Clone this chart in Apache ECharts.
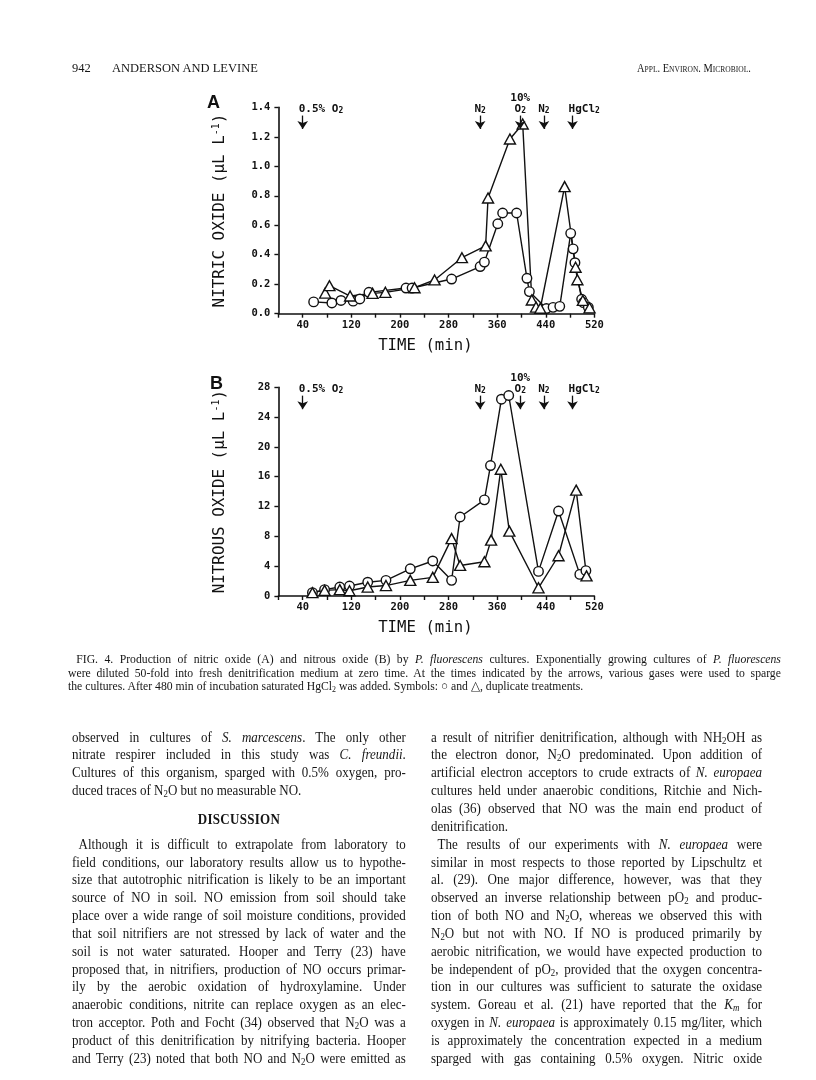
<!DOCTYPE html>
<html><head><meta charset="utf-8">
<script src="https://cdn.jsdelivr.net/npm/echarts@6/dist/echarts.min.js"></script>
<style>
html,body{margin:0;padding:0;background:#fff;}
#page{position:relative;width:816px;height:1080px;overflow:hidden;background:#fff;}
#chart{position:absolute;left:0;top:0;width:816px;height:1080px;}
.blk{position:absolute;font-family:"Liberation Serif","Times New Roman",serif;color:#151515;transform-origin:0 0;}
.ln{display:block;text-align:justify;text-align-last:justify;overflow:hidden;white-space:normal;}
.ln.last{text-align:left;text-align-last:left;}
.ind{padding-left:7px;}
sub{font-size:0.68em;vertical-align:-0.25em;line-height:0;}
.sc{font-variant:small-caps;}
.head{text-align:center;text-align-last:center;font-weight:bold;letter-spacing:0.3px;}
</style></head>
<body><div id="page">
<div id="chart"></div>

<div class="blk" style="left:72px;top:60px;font-size:12.5px;line-height:16px;">942</div>
<div class="blk" style="left:112px;top:60px;font-size:12.5px;line-height:16px;">ANDERSON AND LEVINE</div>
<div class="blk sc" style="left:637px;top:60px;font-size:12.5px;line-height:16px;white-space:nowrap;transform:scaleX(0.835);">Appl. Environ. Microbiol.</div>

<div class="blk" style="left:68px;top:653px;width:780px;font-size:12.8px;line-height:13.5px;transform:scaleX(0.914);">
<span class="ln" style="padding-left:9px;">FIG. 4. Production of nitric oxide (A) and nitrous oxide (B) by <i>P. fluorescens</i> cultures. Exponentially growing cultures of <i>P. fluorescens</i></span>
<span class="ln">were diluted 50-fold into fresh denitrification medium at zero time. At the times indicated by the arrows, various gases were used to sparge</span>
<span class="ln last">the cultures. After 480 min of incubation saturated HgCl<sub>2</sub> was added. Symbols: ○ and △, duplicate treatments.</span>
</div>

<div class="blk" style="left:72px;top:728.6px;width:359px;font-size:14px;line-height:17.85px;transform:scaleX(0.93);">
<span class="ln">observed in cultures of <i>S. marcescens</i>. The only other</span>
<span class="ln">nitrate respirer included in this study was <i>C. freundii</i>.</span>
<span class="ln">Cultures of this organism, sparged with 0.5% oxygen, pro-</span>
<span class="ln last">duced traces of N<sub>2</sub>O but no measurable NO.</span>
<span class="ln head" style="height:35.7px;line-height:40px;">DISCUSSION</span>
<span class="ln ind">Although it is difficult to extrapolate from laboratory to</span>
<span class="ln">field conditions, our laboratory results allow us to hypothe-</span>
<span class="ln">size that autotrophic nitrification is likely to be an important</span>
<span class="ln">source of NO in soil. NO emission from soil should take</span>
<span class="ln">place over a wide range of soil moisture conditions, provided</span>
<span class="ln">that soil nitrifiers are not stressed by lack of water and the</span>
<span class="ln">soil is not water saturated. Hooper and Terry (23) have</span>
<span class="ln">proposed that, in nitrifiers, production of NO occurs primar-</span>
<span class="ln">ily by the aerobic oxidation of hydroxylamine. Under</span>
<span class="ln">anaerobic conditions, nitrite can replace oxygen as an elec-</span>
<span class="ln">tron acceptor. Poth and Focht (34) observed that N<sub>2</sub>O was a</span>
<span class="ln">product of this denitrification by nitrifying bacteria. Hooper</span>
<span class="ln">and Terry (23) noted that both NO and N<sub>2</sub>O were emitted as</span>
</div>

<div class="blk" style="left:431px;top:728.6px;width:356px;font-size:14px;line-height:17.85px;transform:scaleX(0.93);">
<span class="ln">a result of nitrifier denitrification, although with NH<sub>2</sub>OH as</span>
<span class="ln">the electron donor, N<sub>2</sub>O predominated. Upon addition of</span>
<span class="ln">artificial electron acceptors to crude extracts of <i>N. europaea</i></span>
<span class="ln">cultures held under anaerobic conditions, Ritchie and Nich-</span>
<span class="ln">olas (36) observed that NO was the main end product of</span>
<span class="ln last">denitrification.</span>
<span class="ln ind">The results of our experiments with <i>N. europaea</i> were</span>
<span class="ln">similar in most respects to those reported by Lipschultz et</span>
<span class="ln">al. (29). One major difference, however, was that they</span>
<span class="ln">observed an inverse relationship between pO<sub>2</sub> and produc-</span>
<span class="ln">tion of both NO and N<sub>2</sub>O, whereas we observed this with</span>
<span class="ln">N<sub>2</sub>O but not with NO. If NO is produced primarily by</span>
<span class="ln">aerobic nitrification, we would have expected production to</span>
<span class="ln">be independent of pO<sub>2</sub>, provided that the oxygen concentra-</span>
<span class="ln">tion in our cultures was sufficient to saturate the oxidase</span>
<span class="ln">system. Goreau et al. (21) have reported that the <i>K<sub>m</sub></i> for</span>
<span class="ln">oxygen in <i>N. europaea</i> is approximately 0.15 mg/liter, which</span>
<span class="ln">is approximately the concentration expected in a medium</span>
<span class="ln">sparged with gas containing 0.5% oxygen. Nitric oxide</span>
</div>
</div>

<script>
// ---------- Data ----------
// Panel A: nitric oxide (uL/L) vs time (min)
const timeA_circle = [58, 88, 103, 123, 134, 149, 210, 220, 285, 332, 339, 361, 369, 392, 409, 413, 441, 452, 463, 481, 485, 488, 499, 502, 510];
const noA_circle   = [0.08, 0.073, 0.09, 0.085, 0.10, 0.145, 0.174, 0.174, 0.235, 0.32, 0.35, 0.61, 0.683, 0.683, 0.24, 0.15, 0.035, 0.043, 0.05, 0.545, 0.44, 0.346, 0.098, 0.075, 0.043];
const timeA_tri    = [77, 84, 118, 155, 176, 224, 257, 302, 341, 345, 381, 402, 417, 424, 431, 471, 489, 492, 501, 512];
const noA_tri      = [0.14, 0.19, 0.12, 0.138, 0.145, 0.176, 0.229, 0.38, 0.46, 0.785, 1.185, 1.287, 0.093, 0.045, 0.037, 0.862, 0.315, 0.23, 0.09, 0.04];
// Panel B: nitrous oxide (uL/L) vs time (min)
const timeB_circle = [56, 76, 101, 117, 147, 177, 217, 254, 285, 299, 339, 349, 367, 379, 428, 461, 496, 506];
const n2oB_circle  = [0.45, 0.85, 1.2, 1.34, 1.85, 2.1, 3.65, 4.7, 2.1, 10.6, 12.9, 17.5, 26.4, 26.9, 3.3, 11.4, 2.9, 3.4];
const timeB_tri    = [56, 76, 101, 117, 147, 177, 217, 254, 285, 299, 339, 350, 366, 380, 428, 461, 490, 507];
const n2oB_tri     = [0.45, 0.75, 0.85, 0.7, 1.2, 1.4, 2.1, 2.5, 7.7, 4.1, 4.6, 7.5, 17.0, 8.7, 1.1, 5.4, 14.2, 2.7];
// Sparging events (arrows)
const eventTimes  = [40, 332, 398, 437, 484];
const eventLabels = ['0.5% O2', 'N2', '10%\nO2', 'N2', 'HgCl2'];
// Tick labels
const xTickLabels = [40, 120, 200, 280, 360, 440, 520];
const yTickLabelsA = ['0.0', '0.2', '0.4', '0.6', '0.8', '1.0', '1.2', '1.4'];
const yTickLabelsB = ['0', '4', '8', '12', '16', '20', '24', '28'];

// ---------- Chart ----------
const INK = '#111';
const MONO = '"DejaVu Sans Mono", monospace';
const chart = echarts.init(document.getElementById('chart'), null, {renderer: 'canvas'});

function pairs(t, v) { return t.map((x, i) => [x, v[i]]); }
function richLabel(s) {
  return s.split('\n').map(line =>
    '{n|' + line.replace(/([A-Za-z])2/g, '$1}{s|2}{n|') + '}'
  ).join('\n').replace(/\{n\|\}/g, '');
}
const richStyles = {
  n: {fontFamily: MONO, fontWeight: 'bold', fontSize: 11, lineHeight: 11, color: INK},
  s: {fontFamily: MONO, fontWeight: 'bold', fontSize: 8, lineHeight: 5, verticalAlign: 'bottom', color: INK}
};
const leftAligned = {0: true, 4: true};

function markers(yMax) {
  const top = yMax * 0.96, bot = yMax * 0.895;
  return {
    markLine: {
      silent: true, animation: false,
      symbol: ['none', 'arrow'], symbolSize: 8,
      label: {show: false},
      lineStyle: {color: INK, width: 1.3, type: 'solid'},
      emphasis: {disabled: true},
      data: eventTimes.map(t => [{coord: [t, top]}, {coord: [t, bot]}])
    },
    markPoint: {
      silent: true, animation: false,
      symbol: 'circle', symbolSize: 0,
      itemStyle: {color: 'rgba(0,0,0,0)'},
      data: eventTimes.map((t, i) => ({
        coord: [t, top],
        label: leftAligned[i] ? {align: 'left', offset: [-4, 0]} : {}
      })),
      label: {
        show: true, position: 'top', distance: 1,
        formatter: p => richLabel(eventLabels[p.dataIndex]),
        rich: richStyles
      }
    }
  };
}

function dataSeries(idx, t, v, sym, extra) {
  return Object.assign({
    type: 'line', xAxisIndex: idx, yAxisIndex: idx,
    data: pairs(t, v),
    symbol: sym, symbolSize: sym === 'triangle' ? [11, 10] : 9.5,
    showSymbol: true, showAllSymbol: true, clip: false,
    lineStyle: {color: INK, width: 1.4},
    itemStyle: {color: '#fff', borderColor: INK, borderWidth: 1.4},
    emphasis: {disabled: true},
    animation: false
  }, extra || {});
}

function xAxis(idx) {
  return {
    gridIndex: idx, type: 'value', min: 0, max: 520, interval: 40,
    axisLine: {show: true, lineStyle: {color: INK, width: 1.6}},
    axisTick: {show: true, length: 4, inside: false, lineStyle: {color: INK, width: 1.4}},
    splitLine: {show: false},
    axisLabel: {
      margin: 6, color: INK, fontFamily: MONO, fontWeight: 'bold', fontSize: 10.5,
      formatter: v => xTickLabels.includes(v) ? String(v) : ''
    },
    name: 'TIME (min)', nameLocation: 'middle', nameGap: 24,
    nameTextStyle: {fontFamily: MONO, fontSize: 15.7, color: INK, padding: [0, 22, 0, 0]}
  };
}
function yAxis(idx, max, interval, labels, name) {
  return {
    gridIndex: idx, type: 'value', min: 0, max: max, interval: interval,
    axisLine: {show: true, lineStyle: {color: INK, width: 1.6}},
    axisTick: {show: true, length: 4, inside: false, lineStyle: {color: INK, width: 1.4}},
    splitLine: {show: false},
    axisLabel: {
      margin: 8, color: INK, fontFamily: MONO, fontWeight: 'bold', fontSize: 10.5,
      formatter: v => labels[Math.round(v / interval)]
    },
    name: '{a|' + name + ' (µL L}{b|-1}{a|)}', nameLocation: 'middle', nameGap: 50,
    nameTextStyle: {
      color: INK,
      rich: {
        a: {fontFamily: MONO, fontSize: 15.9, lineHeight: 17, color: INK},
        b: {fontFamily: MONO, fontSize: 10, lineHeight: 9, verticalAlign: 'top', color: INK}
      }
    }
  };
}

chart.setOption({
  backgroundColor: 'transparent',
  animation: false,
  title: [
    {text: 'A', left: 202, top: 89, textStyle: {fontFamily: '"Liberation Sans", Arial', fontWeight: 'bold', fontSize: 18, color: INK}},
    {text: 'B', left: 205, top: 370, textStyle: {fontFamily: '"Liberation Sans", Arial', fontWeight: 'bold', fontSize: 18, color: INK}}
  ],
  grid: [
    {left: 278.4, top: 107.3, width: 316, height: 206.4},
    {left: 278.4, top: 387.3, width: 316, height: 208.7}
  ],
  xAxis: [xAxis(0), xAxis(1)],
  yAxis: [
    yAxis(0, 1.4, 0.2, yTickLabelsA, 'NITRIC OXIDE'),
    yAxis(1, 28, 4, yTickLabelsB, 'NITROUS OXIDE')
  ],
  series: [
    dataSeries(0, timeA_circle, noA_circle, 'circle', markers(1.4)),
    dataSeries(0, timeA_tri, noA_tri, 'triangle'),
    dataSeries(1, timeB_circle, n2oB_circle, 'circle', markers(28)),
    dataSeries(1, timeB_tri, n2oB_tri, 'triangle')
  ]
});
</script>
</body></html>
